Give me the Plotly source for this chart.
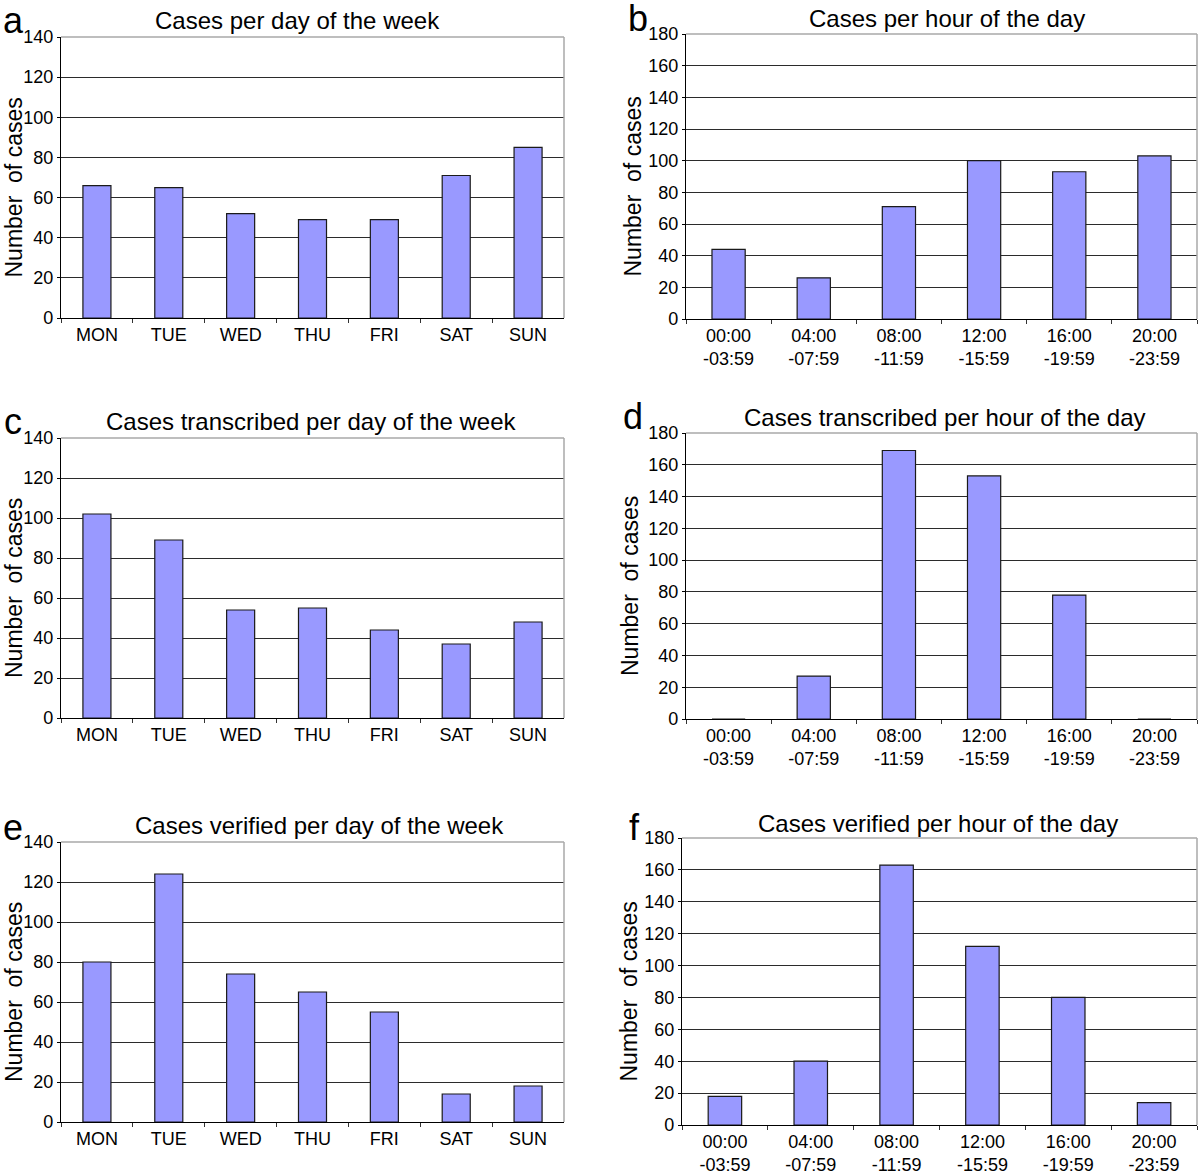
import plotly.graph_objects as go

# categories
days = ['MON', 'TUE', 'WED', 'THU', 'FRI', 'SAT', 'SUN']
hours = ['00:00<br>-03:59', '04:00<br>-07:59', '08:00<br>-11:59',
         '12:00<br>-15:59', '16:00<br>-19:59', '20:00<br>-23:59']

# values
cases_day = [66, 65, 52, 49, 49, 71, 85]
cases_hour = [44, 26, 71, 100, 93, 103]
transcribed_day = [102, 89, 54, 55, 44, 37, 48]
transcribed_hour = [0, 27, 169, 153, 78, 0]
verified_day = [80, 124, 74, 65, 55, 14, 18]
verified_hour = [18, 40, 163, 112, 80, 14]

titles = [
    'Cases per day of the week',
    'Cases per hour of the day',
    'Cases transcribed per day of the week',
    'Cases transcribed per hour of the day',
    'Cases verified per day of the week',
    'Cases verified per hour of the day',
]
letters = ['a', 'b', 'c', 'd', 'e', 'f']

W, H = 1200, 1175
FONT = 'Liberation Sans, Arial, sans-serif'

panels = [
    (days, cases_day, 140),
    (hours, cases_hour, 180),
    (days, transcribed_day, 140),
    (hours, transcribed_hour, 180),
    (days, verified_day, 140),
    (hours, verified_hour, 180),
]

# plot area in pixels: left, right, top, bottom
boxes = [
    (61, 564, 37, 318),
    (686, 1197, 34, 319),
    (61, 564, 438, 718),
    (686, 1197, 433, 719),
    (61, 564, 842, 1122),
    (682, 1197, 838, 1125),
]
# title centre (x, y), letter (x, y), axis title x
title_pos = [(297, 21), (947, 18), (311, 422), (945, 417), (319, 826), (938, 823)]
letter_pos = [(13, 20), (638, 19), (13, 421), (633, 416), (13, 827), (634, 827)]
ytitle_x = [14, 632, 14, 630, 14, 628]

px = lambda x: x / W
py = lambda y: 1 - y / H

fig = go.Figure()
annotations = []
shapes = []

for i, (cats, vals, ymax) in enumerate(panels):
    n = '' if i == 0 else str(i + 1)
    left, right, top, bottom = boxes[i]
    fig.add_trace(go.Bar(
        x = cats,
        y = vals,
        xaxis = 'x' + n,
        yaxis = 'y' + n,
        marker = {'color': '#9999FF', 'line': {'color': '#1a1a1a', 'width': 1.2}},
        showlegend = False
    ))
    fig.update_layout({
        'xaxis' + n: {
            'domain': [px(left), px(right)],
            'anchor': 'y' + n,
            'type': 'category',
            'automargin': False,
            'showline': True,
            'linecolor': 'black',
            'linewidth': 1.3,
            'ticks': 'outside',
            'tickson': 'boundaries',
            'ticklen': 4,
            'tickcolor': '#333',
            'showgrid': False,
            'tickfont': {'family': FONT, 'size': 18, 'color': 'black'},
            'fixedrange': True
        },
        'yaxis' + n: {
            'domain': [py(bottom), py(top)],
            'anchor': 'x' + n,
            'automargin': False,
            'range': [0, ymax],
            'dtick': 20,
            'showline': True,
            'linecolor': 'black',
            'linewidth': 1.3,
            'ticks': 'outside',
            'ticklen': 3,
            'tickcolor': 'black',
            'showgrid': True,
            'gridcolor': '#2b2b2b',
            'gridwidth': 1.3,
            'zeroline': False,
            'tickfont': {'family': FONT, 'size': 18, 'color': 'black'},
            'fixedrange': True
        }
    })
    # light grey frame on top and right
    shapes.append(dict(type = 'line', xref = 'x' + n + ' domain', yref = 'y' + n + ' domain',
                       x0 = 0, x1 = 1, y0 = 1, y1 = 1, line = {'color': '#A8A8A8', 'width': 1.5}, layer = 'above'))
    shapes.append(dict(type = 'line', xref = 'x' + n + ' domain', yref = 'y' + n + ' domain',
                       x0 = 1, x1 = 1, y0 = 0, y1 = 1, line = {'color': '#A8A8A8', 'width': 1.5}, layer = 'above'))
    annotations.append(dict(
        text = titles[i], xref = 'paper', yref = 'paper',
        x = px(title_pos[i][0]), y = py(title_pos[i][1]),
        xanchor = 'center', yanchor = 'middle', showarrow = False,
        font = {'family': FONT, 'size': 24, 'color': 'black'}
    ))
    annotations.append(dict(
        text = letters[i], xref = 'paper', yref = 'paper',
        x = px(letter_pos[i][0]), y = py(letter_pos[i][1]),
        xanchor = 'center', yanchor = 'middle', showarrow = False,
        font = {'family': FONT, 'size': 36, 'color': 'black'}
    ))
    annotations.append(dict(
        text = 'Number  of cases', xref = 'paper', yref = 'paper',
        x = px(ytitle_x[i]), y = py((top + bottom) / 2 + 10),
        xanchor = 'center', yanchor = 'middle', textangle = -90, showarrow = False,
        font = {'family': FONT, 'size': 23, 'color': 'black'}
    ))

fig.update_layout(
    width = W,
    height = H,
    margin = {'t': 0, 'r': 0, 'b': 0, 'l': 0, 'pad': 0},
    paper_bgcolor = 'white',
    plot_bgcolor = 'white',
    bargap = 0.61,
    annotations = annotations,
    shapes = shapes
)

# drop the default page margin so the figure fills the window from its corner
fig.write_html('out.html',
    config = {'displayModeBar': False},
    post_script = "document.body.style.margin = '0'; document.body.style.overflow = 'hidden';"
)
